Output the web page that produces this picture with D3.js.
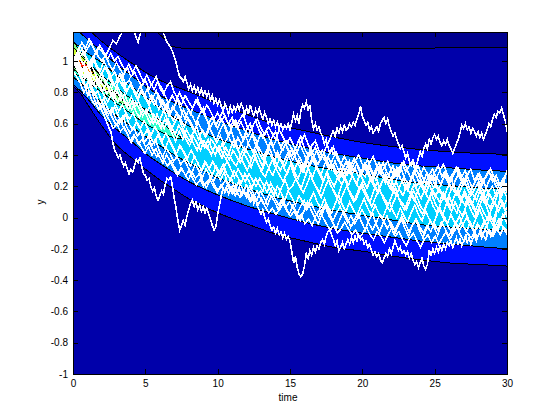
<!DOCTYPE html>
<html><head><meta charset="utf-8">
<script src="https://cdn.jsdelivr.net/npm/d3@7"></script>
<style>html,body{margin:0;padding:0;background:#fff}svg{display:block}text{font-family:"Liberation Sans",Arial,sans-serif;font-size:10px;fill:#000}</style>
</head><body><svg id="c" width="560" height="420"></svg>
<script>
const xTicks=[0,5,10,15,20,25,30];
const yTicks=[-1,-0.8,-0.6,-0.4,-0.2,0,0.2,0.4,0.6,0.8,1];
const bandColors=["#0010FF","#0080FF","#00CFFF","#30FFCF","#80FF80","#CFFF30","#FF8000","#FF2000"];
const bgColor="#0000AA", topColor="#00008F";
const knotT=[0,.5,1,2,3,4,5,6,7,8,10,12,14,16,18,20,22,24,26,28,30];
const upper1=[1.30,1.26,1.21,1.125,1.055,.99,.93,.878,.84,.805,.73,.66,.595,.555,.515,.48,.455,.435,.42,.41,.404];
const lower1=[.84,.795,.725,.585,.465,.385,.31,.24,.18,.12,.03,-.04,-.105,-.15,-.19,-.215,-.245,-.27,-.29,-.30,-.31];
const upper2=[1.22,1.18,1.14,1.06,.98,.91,.84,.78,.735,.695,.62,.555,.495,.45,.41,.38,.35,.33,.318,.305,.295];
const lower2=[.85,.81,.76,.65,.565,.49,.41,.345,.285,.23,.145,.075,.02,-.03,-.07,-.10,-.125,-.15,-.168,-.185,-.2];
const upper3=[1.12,1.09,1.05,.99,.91,.84,.77,.70,.64,.585,.505,.44,.385,.34,.305,.28,.245,.22,.205,.19,.18];
const lower3=[.90,.86,.82,.73,.65,.585,.52,.46,.40,.35,.255,.186,.13,.085,.045,.015,-.015,-.045,-.06,-.072,-.083];
const knotT4=[0,.5,1,2,3,4,5,6,7,7.6];
const upper4=[1.06,1.03,.99,.91,.83,.76,.69,.62,.54,.505];
const lower4=[.92,.90,.87,.80,.73,.665,.60,.55,.51,.505];
const knotT5=[0,1,2,3,4];
const upper5=[1.13,1.0,.90,.79,.70];
const lower5=[.95,.885,.82,.75,.70];
const knotT6=[0,.5,1,2,2.8];
const upper6=[1.09,1.04,.99,.87,.79];
const lower6=[.97,.93,.90,.83,.79];
const knotT7=[0,.5,1,1.5];
const upper7=[1.04,1.01,.97,.92];
const lower7=[.98,.94,.925,.92];
const knotT8=[.2,.6,1];
const upper8=[.97,1.0,.97];
const lower8=[.97,.96,.97];
const topContourT=[5.8,6.36,6.7,7.5,24.5,30];
const topContourY=[1.186,1.14,1.096,1.083,1.083,1.09];
// white sample paths, in hundredths of y
const pathA1=[100,97,103,106,101,98,104,109,106,103,108,113,111,116,120,124,128,118,112,121,
126,129,124,120,122,118,112,109,103];
const pathA2=[103,99,94,90,89,87,90,86,82,85,81,84,80,83,79,82,78,81,77,80,75,78,73,76,
72,75,71,68,73,70,66,71,67,71,68,72,69,73,70,66,70,66,72,68,65,69,66,70,
66,63,67,64,60,63,59,62,58,61,57,60,56,59,57,60,56,61,66,62,65,60,68,72,
70,74,69,72,62,57,60,56,58,54,52,47,50,45,41,44,40];
const pathA3=[34,28,32,25,30,27,31,26,29,34,28,24,30,33,27,22,25,31,27,23,18,22,26,20,24,19,
22,27,21,17,23,28,22,18,15,21,25,19,14,18,22,16,12,17,20,14,18];
const pathB1=[96,100,94,90,95,98,93,88,92,86,90,84,87,92,85,81,86,80,75,82,
78,72,76,81,74,69,73,67,71,75,68,63,69,65,60,66,70,63,58,62,
57,63,59,53,58,62,55,50,56,60,52,48,54,50,45,51,55,47,43,49,
46,41,47,52,44,40,46,49,43,39,45,50,56];
const pathB2=[55,52,57,54,58,55,59,56,57,60,58,61,59,63,66,71,65,62,59,61,56,58,54,56,
58,55,60,62,64,60,63,58,55,52,54,50,47,44,46,42,38,41,36,33,35,31,34,38,
42,39,44,47,44,50,47,51,53,50,52,48,46,49,47,50,46,44,41,44,47,50,54,59,
57,60,56,58,54,57,55,52,55,51,54,50,53,56,60,58,63,66,64,68,67,70,66,62,55];
const pathC1=[94,90,86,80,84,76,72,74,68];
const pathC2=[68,66,63,60,57,55,48,43,41,38,40,36,33,35,31,28,31,29,33,37,35,38,33,28,
27,24,25,20,17,19,14,11,14,17,15,21,25,24,26,20,12,6,-2,-8,-5,-2,-5,1,
5,9,11,7,10,5,8,4,7,3,6,2,-1,-5,-8,-6,2,8,14,19,16,19,15,18,
20,17,21,16,19,14,18,15,13,16,11,14,9,12,7,5,2,5,0,-3,-1,-5,-8,-6,
-10,-7,-11,-9,-13,-10,-14,-12,-15,-22,-29,-25,-32,-36,-38,-36,-31,-23,-26,-21,-24,-19,-22,-18,
-20,-16,-14,-17,-12,-9,-8,-11,-14,-18,-15,-21,-19,-16,-20,-17,-14,-17,-13,-16,-12,-15,-11,-14,
-13,-17,-15,-19,-17,-21,-24,-22,-25,-23,-27,-29,-26,-23,-25,-20,-23,-19,-15,-18,-21,-19,-23,-21,
-24,-22,-26,-23,-27,-30,-28,-32,-29,-26,-31,-33,-30,-21,-24,-20,-23,-19,-22,-18,-21,-17,-20,-16,
-18,-15,-19,-16,-13,-17,-14,-18,-15,-12,-16,-13,-17,-14,-11,-15,-12,-9,-13,-10,-7,-11,-8,-12,
-9,-4,2,7,12,17,22,26,30];
const pathD=[100,105,110,104,108,112,107,103,100,104,98,94,99,95,91,96,90,93,88,84,
88,82,86,90,83,79,84,87,80,76,72,78,74,70,75,71,67,72,68,63,
67,62,65,60,64,58,62,66,59,55,60,63,57,53,58,54,50,56,52,47,
51,46,42,48,53,47,41,45,39,43,37,41,45,38,34,39,35,31,36,40,
34,30,35,39,33,28,32,36,30,26,31,35,29,33,37,30,27,32,28,24,
29,33,26,30,24,28,32,25,21,27,31,24,28,22,26,30,23,27,21,25,29];
const pathE=[100,96,92,97,90,86,91,85,81,86,80,76,81,75,79,73,69,74,70,65,
69,64,60,66,61,57,63,58,53,59,55,50,46,52,48,43,49,45,40,46,
42,47,41,37,43,39,35,41,37,32,38,34,30,36,31,27,33,38,32,28,
34,29,25,31,36,30,26,32,27,23,29,24,20,26,30,25,21,27,22,18,
24,19,25,20,16,22,26,21,17,23,18,14,20,15,21,17,12,18,23,17,
13,19,14,10,16,21,15,11,17,12,8,14,19,13,9,15,10,6,12,8,13];
const pathF=[100,94,89,84,88,82,77,72,76,70,66,71,65,61,66,60,56,61,57,52,
56,51,47,53,48,44,50,45,40,46,42,37,33,39,35,30,36,32,27,33,
29,34,28,24,30,26,22,28,24,19,25,21,17,23,18,14,20,16,11,17,
13,8,14,10,5,11,16,10,6,12,7,3,9,14,8,4,10,5,1,7,
12,6,2,8,3,-1,5,10,4,0,6,1,-3,3,8,2,-2,4,-1,-5,
1,6,0,-4,2,-3,-7,-1,4,-2,-6,0,5,-1,-5,1,-4,-8,-2,3,-1];
const pathG=[100,103,98,101,96,100,95,91,96,92,88,83,88,84,80,85,81,76,81,77,
73,78,74,69,75,71,66,62,67,63,58,64,60,55,50,56,52,57,53,48,
52,47,51,55,49,44,48,52,46,42,47,43,39,44,48,42,38,43,47,41,
37,42,38,33,39,44,38,34,40,36,31,37,42,36,32,27,33,38,33,29,
26,32,28,24,30,35,29,25,20,26,31,25,21,27,32,26,22,28,23,19,
25,21,27,22,18,24,29,24,20,15,21,26,20,16,22,27,21,17,23,19,24];
const pathH=[100,95,90,85,78,81,74,69,72,66,62,57,60,55,58,53,48,52,47,50,
45,48,43,39,42,37,33,36,32,28,31,27,30,25,21,24,20,23,26,21,
17,20,24,19,15,18,13,17,14,10,13,8,12,7,3,6,2,5,9,4,
1,4,-1,2,-4,-1,-5,1,5,0,-4,-8,-5,-10,-7,-3,-7,-11,-8,-13,
-10,-6,-11,-14,-9,-12,-16,-11,-7,-12,-9,-14,-18,-13,-10,-15,-19,-14,-11,-16,
-12,-17,-13,-9,-14,-10,-6,-11,-15,-10,-13,-9,-5,-10,-14,-8,-12,-7,-11,-6,-9];
const pathI=[100,97,93,89,93,87,83,88,84,79,84,78,74,79,73,69,74,68,64,69,
65,60,66,62,57,63,59,54,49,55,50,56,52,47,43,49,45,50,44,40,
46,41,37,43,49,44,40,45,41,37,43,38,33,39,44,38,34,30,36,41,
35,31,37,32,28,34,39,33,28,24,30,35,30,25,21,27,32,26,22,28,
23,19,25,21,16,22,28,23,19,14,20,25,19,15,11,17,22,16,12,18,
14,10,16,11,7,13,18,12,8,14,9,5,11,16,10,6,12,18,13,19,15];
const pathJ=[100,98,93,96,90,85,89,82,78,74,79,73,68,72,67,63,67,61,57,62,
57,53,58,54,49,54,50,45,41,46,42,38,43,39,34,30,35,31,36,31,
27,32,36,31,26,31,27,23,28,24,20,25,21,16,22,18,13,19,24,18,
20,25,20,16,21,27,22,17,13,19,24,19,14,9,15,20,15,10,16,21,
15,11,7,13,18,13,8,4,10,15,9,5,11,16,11,6,2,8,13,7,
3,9,14,8,4,10,5,1,7,12,6,2,8,3,-1,5,10,4,9,5,8];
const pathK=[100,93,87,91,84,79,75,70,74,68,64,59,63,58,54,49,53,49,45,41,
45,40,44,39,35,40,36,31,27,32,28,24,29,25,28,23,19,24,20,16,
21,17,22,18,14,19,15,21,17,13,17,12,8,13,18,12,8,12,7,10,
6,2,7,11,6,9,4,0,5,9,3,-2,3,7,2,-3,1,-4,0,5,
1,-4,-8,-3,2,-2,-7,-3,-8,-4,1,-4,-9,-5,-1,-6,-10,-5,-9,-4,
-8,-3,-7,-12,-7,-3,-8,-4,0,-5,-9,-4,-8,-3,1,-4,-8,-3,2,-3,1];
const pathL=[100,106,112,108,114,109,105,110,106,101,105,100,103,98,94,98,93,97,92,87,
91,86,82,87,83,78,73,78,74,80,75,71,66,72,76,70,65,60,64,59,
63,68,62,58,62,57,61,56,52,57,62,56,51,56,50,46,51,45,49,44,
39,44,49,43,38,33,38,43,37,41,35,31,36,30,26,31,36,30,34,28,
33,37,31,27,32,27,22,28,33,27,31,36,30,25,29,33,27,22,27,31,
25,30,34,28,23,28,32,26,30,24,19,24,28,23,27,31,26,21,16,22,20];
const pathM=[100,102,96,93,98,91,88,84,90,87,81,78,84,80,75,72,77,71,74,69,
66,71,64,60,63,69,62,56,61,65,58,53,49,54,58,51,47,44,50,47,
43,38,45,41,36,33,39,35,30,36,41,34,29,26,32,37,31,27,23,29,
34,27,22,19,26,31,24,20,16,23,28,21,17,13,20,25,18,14,11,17,
21,15,10,17,23,16,12,8,14,19,12,9,5,11,17,13,7,4,10,15,
9,5,1,8,13,7,3,9,15,10,4,0,6,12,8,2,-2,5,11,6,2];
const pathN=[100,104,108,102,99,103,97,94,100,95,90,93,87,91,85,88,83,79,84,78,
82,76,72,79,74,70,65,71,67,62,69,64,59,55,61,56,52,58,53,49,
55,60,54,49,45,51,47,42,48,53,46,41,37,43,40,35,42,37,33,39,
44,38,33,29,35,41,36,31,27,34,39,33,28,24,31,36,29,25,22,29,
34,28,23,30,35,29,24,19,26,32,25,21,17,24,29,23,19,15,22,27,
21,16,12,19,25,18,14,20,26,19,15,11,18,23,17,13,9,16,21,15,10];
const pathO=[100,91,86,92,83,78,81,75,70,66,70,63,60,65,58,54,58,52,55,48,
52,46,50,43,39,44,41,36,39,34,37,32,28,34,30,26,31,27,23,28,
24,29,21,25,18,23,19,14,20,16,11,17,13,8,14,10,5,11,7,2,
8,3,-2,4,10,5,0,-4,2,7,1,-3,-7,-1,4,0,-6,-2,3,-3,
-8,-2,3,-4,-9,-3,1,-5,-11,-6,-1,-7,-12,-5,-1,-8,-13,-7,-2,-6,
-11,-5,0,-6,-10,-4,1,-5,-9,-3,-8,-13,-7,-2,-8,-12,-5,-1,-6,-10,-5];
// each strand: values, first time, time step
const strands=[[pathA1,0,.25],[pathA2,7,.125],[pathA3,18,.25],[pathB1,0,.25],[pathB2,18,.125],[pathC1,0,.25],[pathC2,2,.125],
 [pathD,0,.25],[pathE,.06,.25],[pathF,.125,.25],[pathG,.19,.25],[pathH,.03,.25],[pathI,.09,.25],[pathJ,.16,.25],[pathK,.22,.25],[pathL,.11,.25],[pathM,.04,.25],[pathN,.14,.25],[pathO,.2,.25]];

const L=73,R=507,T=32,B=374;
const x=d3.scaleLinear().domain([0,30]).range([L,R]);
const y=d3.scaleLinear().domain([-1,1.186]).range([B,T]);
const svg=d3.select("#c");
svg.append("defs").append("clipPath").attr("id","pc").append("rect").attr("x",L).attr("y",T).attr("width",R-L).attr("height",B-T);
const g=svg.append("g").attr("clip-path","url(#pc)").attr("shape-rendering","crispEdges");
g.append("rect").attr("x",L).attr("y",T).attr("width",R-L).attr("height",B-T).attr("fill",bgColor);

const topIdx=d3.range(topContourT.length);
g.append("path").attr("fill",topColor)
 .attr("d",d3.area().x(i=>x(topContourT[i])).y0(y(1.186)).y1(i=>y(topContourY[i]))(topIdx));
g.append("path").attr("fill","none").attr("stroke","#000")
 .attr("d",d3.line().x(i=>x(topContourT[i])).y(i=>y(topContourY[i]))(topIdx));

const bands=[[knotT,upper1,lower1],[knotT,upper2,lower2],[knotT,upper3,lower3],[knotT4,upper4,lower4],
 [knotT5,upper5,lower5],[knotT6,upper6,lower6],[knotT7,upper7,lower7],[knotT8,upper8,lower8]];
bands.forEach(([t,u,l],k)=>{
  const idx=d3.range(t.length);
  g.append("path").attr("fill",bandColors[k])
   .attr("d",d3.area().curve(d3.curveMonotoneX).x(i=>x(t[i])).y0(i=>y(l[i])).y1(i=>y(u[i]))(idx));
  [u,l].forEach(v=>g.append("path").attr("fill","none").attr("stroke","#000")
   .attr("d",d3.line().curve(d3.curveMonotoneX).x(i=>x(t[i])).y(i=>y(v[i]))(idx)));
});
strands.forEach(([p,t0,dt])=>{
  g.append("path").attr("fill","none").attr("stroke","#fff").attr("stroke-width",1.6)
   .attr("d",d3.line().x((d,i)=>x(t0+i*dt)).y(d=>y(d/100))(p));
});
function style(a){a.selectAll("path.domain").attr("stroke","#000").attr("shape-rendering","crispEdges");
 a.selectAll("line").attr("stroke","#000").attr("shape-rendering","crispEdges");}
const bx=svg.append("g").attr("transform",`translate(0,${B})`).call(d3.axisBottom(x).tickValues(xTicks).tickSizeInner(-5).tickSizeOuter(0).tickPadding(6).tickFormat(d3.format("d")));
const tx=svg.append("g").attr("transform",`translate(0,${T})`).call(d3.axisTop(x).tickValues(xTicks).tickSizeInner(-5).tickSizeOuter(0).tickFormat(""));
const ly=svg.append("g").attr("transform",`translate(${L},0)`).call(d3.axisLeft(y).tickValues(yTicks).tickSizeInner(-5).tickSizeOuter(0).tickPadding(5).tickFormat(d=>d===0?"0":String(d)));
const ry=svg.append("g").attr("transform",`translate(${R},0)`).call(d3.axisRight(y).tickValues(yTicks).tickSizeInner(-5).tickSizeOuter(0).tickFormat(""));
[bx,tx,ly,ry].forEach(style);
[bx,ly].forEach(a=>a.selectAll("text").attr("font-size",null).style("font-size","10px").style("font-family",'"Liberation Sans",Arial,sans-serif'));
svg.append("text").attr("x",288).attr("y",401).attr("text-anchor","middle").text("time");
svg.append("text").attr("transform","translate(44,202) rotate(-90)").attr("text-anchor","middle").text("y");
</script></body></html>
